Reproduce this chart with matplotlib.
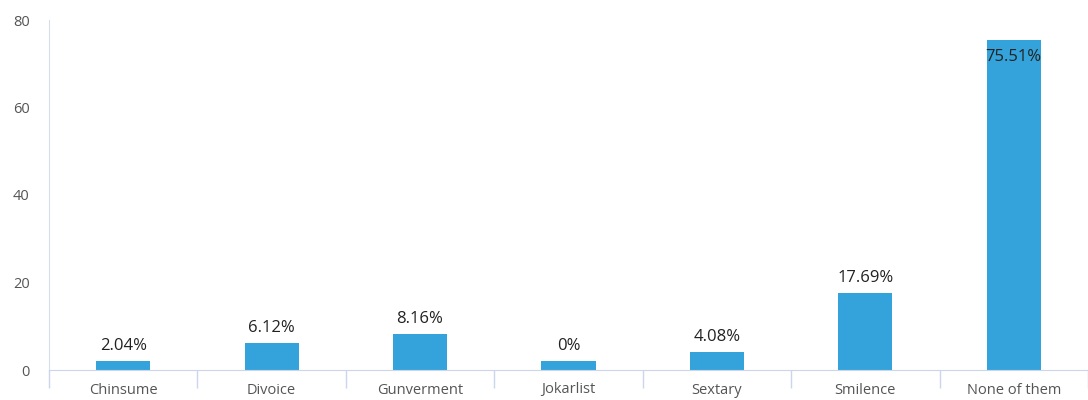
import numpy as np
import matplotlib.pyplot as plt

plt.rcParams['font.family'] = ['Open Sans', 'DejaVu Sans']

categories = ['Chinsume', 'Divoice', 'Gunverment', 'Jokarlist', 'Sextary', 'Smilence', 'None of them']
values = [2.04, 6.12, 8.16, 0, 4.08, 17.69, 75.51]
labels = ['2.04%', '6.12%', '8.16%', '0%', '4.08%', '17.69%', '75.51%']

min_height = 2.0  # zero-valued bars still get a small stub
heights = [max(v, min_height) for v in values]

fig = plt.figure(figsize=(10.88, 4), dpi=100)
ax = fig.add_axes([0.045, 0.075, 0.955, 0.875])

x = np.arange(len(categories))
ax.bar(x, heights, width=0.365, color='#34a3db', zorder=2)

for xi, h, lab in zip(x, heights, labels):
    if h > 70:
        ax.text(xi, h - 2.2, lab, ha='center', va='top', fontsize=12, color='#222222')
    else:
        ax.text(xi, h + 1.6, lab, ha='center', va='bottom', fontsize=12, color='#222222')

ax.set_xlim(-0.5, len(categories) - 0.5)
ax.set_ylim(0, 80)
ax.set_yticks([0, 20, 40, 60, 80])
ax.set_xticks(x)
ax.set_xticklabels(categories)
ax.set_xticks(np.arange(-0.5, len(categories)), minor=True)

for s in ['top', 'right']:
    ax.spines[s].set_visible(False)
ax.spines['left'].set_color('#d6dfe9')
ax.spines['bottom'].set_color('#ccd6eb')
ax.spines['left'].set_bounds(0, 80)

ax.tick_params(axis='x', which='major', length=0, pad=9, labelsize=10.5, labelcolor='#555555')
ax.tick_params(axis='x', which='minor', length=13, color='#ccd6eb', width=1)
ax.tick_params(axis='y', length=0, pad=14, labelsize=10.5, labelcolor='#555555')

fig.savefig('out.png', dpi=100)
